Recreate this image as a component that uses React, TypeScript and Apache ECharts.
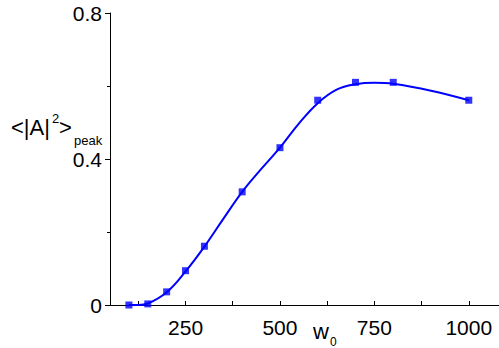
import React, { useEffect, useRef } from "react";
import * as echarts from "echarts";

// measured points
const pointX = [100, 150, 200, 250, 300, 400, 500, 600, 700, 800, 1000];
const pointY = [0.0, 0.003, 0.036, 0.094, 0.161, 0.31, 0.431, 0.561, 0.61, 0.61, 0.561];

// fitted curve
const curveX = [100, 125, 150, 200, 250, 300, 350, 400, 450, 500, 550, 600, 650, 700, 750, 800, 900, 1000];
const curveY = [0.0, 0.0, 0.004, 0.035, 0.092, 0.16, 0.236, 0.31, 0.372, 0.431, 0.497, 0.553, 0.59, 0.605, 0.609, 0.606, 0.587, 0.561];

const xLabels = [250, 500, 750, 1000];
const xTicks = [125, 250, 375, 500, 625, 750, 875, 1000];

const FONT = "Liberation Sans, Arial, sans-serif";

export default function App() {
  const ref = useRef<HTMLDivElement>(null);
  useEffect(() => {
    const chart = echarts.init(ref.current!, null, { renderer: "svg" });
    chart.setOption({
      animation: false,
      backgroundColor: "#fff",
      grid: { left: 110, right: 0, top: 13, bottom: 43 },
      xAxis: {
        type: "value",
        min: 50,
        max: 1080,
        axisLine: { lineStyle: { color: "#000", width: 1 } },
        axisTick: { inside: true, length: 4, lineStyle: { color: "#000" }, customValues: xTicks },
        axisLabel: {
          color: "#000",
          fontSize: 21,
          fontFamily: FONT,
          margin: 12,
          customValues: xLabels,
          formatter: (v: number) => String(v),
        },
        splitLine: { show: false },
      },
      yAxis: {
        type: "value",
        min: 0,
        max: 0.8,
        interval: 0.4,
        axisLine: { show: true, lineStyle: { color: "#000", width: 1 } },
        axisTick: { show: true, length: 5, lineStyle: { color: "#000" } },
        minorTick: { show: true, splitNumber: 2, length: 3, lineStyle: { color: "#000" } },
        axisLabel: { color: "#000", fontSize: 21, fontFamily: FONT, margin: 8 },
        splitLine: { show: false },
      },
      series: [
        {
          type: "line",
          data: curveX.map((x, i) => [x, curveY[i]]),
          smooth: 0.4,
          symbol: "none",
          lineStyle: { color: "#0000ff", width: 2 },
          z: 2,
        },
        {
          type: "scatter",
          data: pointX.map((x, i) => [x, pointY[i]]),
          symbol: "rect",
          symbolSize: 7,
          itemStyle: { color: "#0000ff" },
          z: 3,
        },
      ],
      graphic: [
        { type: "text", x: 11, y: 127, style: { text: "<|A|", font: `22px ${FONT}`, fill: "#000", verticalAlign: "middle" } },
        { type: "text", x: 52, y: 118, style: { text: "2", font: `13px ${FONT}`, fill: "#000", verticalAlign: "middle" } },
        { type: "text", x: 59, y: 127, style: { text: ">", font: `22px ${FONT}`, fill: "#000", verticalAlign: "middle" } },
        { type: "text", x: 74, y: 140, style: { text: "peak", font: `13px ${FONT}`, fill: "#000", verticalAlign: "middle" } },
        { type: "text", x: 313, y: 331, style: { text: "w", font: `22px ${FONT}`, fill: "#000", verticalAlign: "middle" } },
        { type: "text", x: 330, y: 336, style: { text: "0", font: `12px ${FONT}`, fill: "#000", verticalAlign: "top" } },
      ],
    });
    return () => chart.dispose();
  }, []);
  return <div ref={ref} style={{ width: 499, height: 348, position: "absolute", left: 0, top: 0 }} />;
}
